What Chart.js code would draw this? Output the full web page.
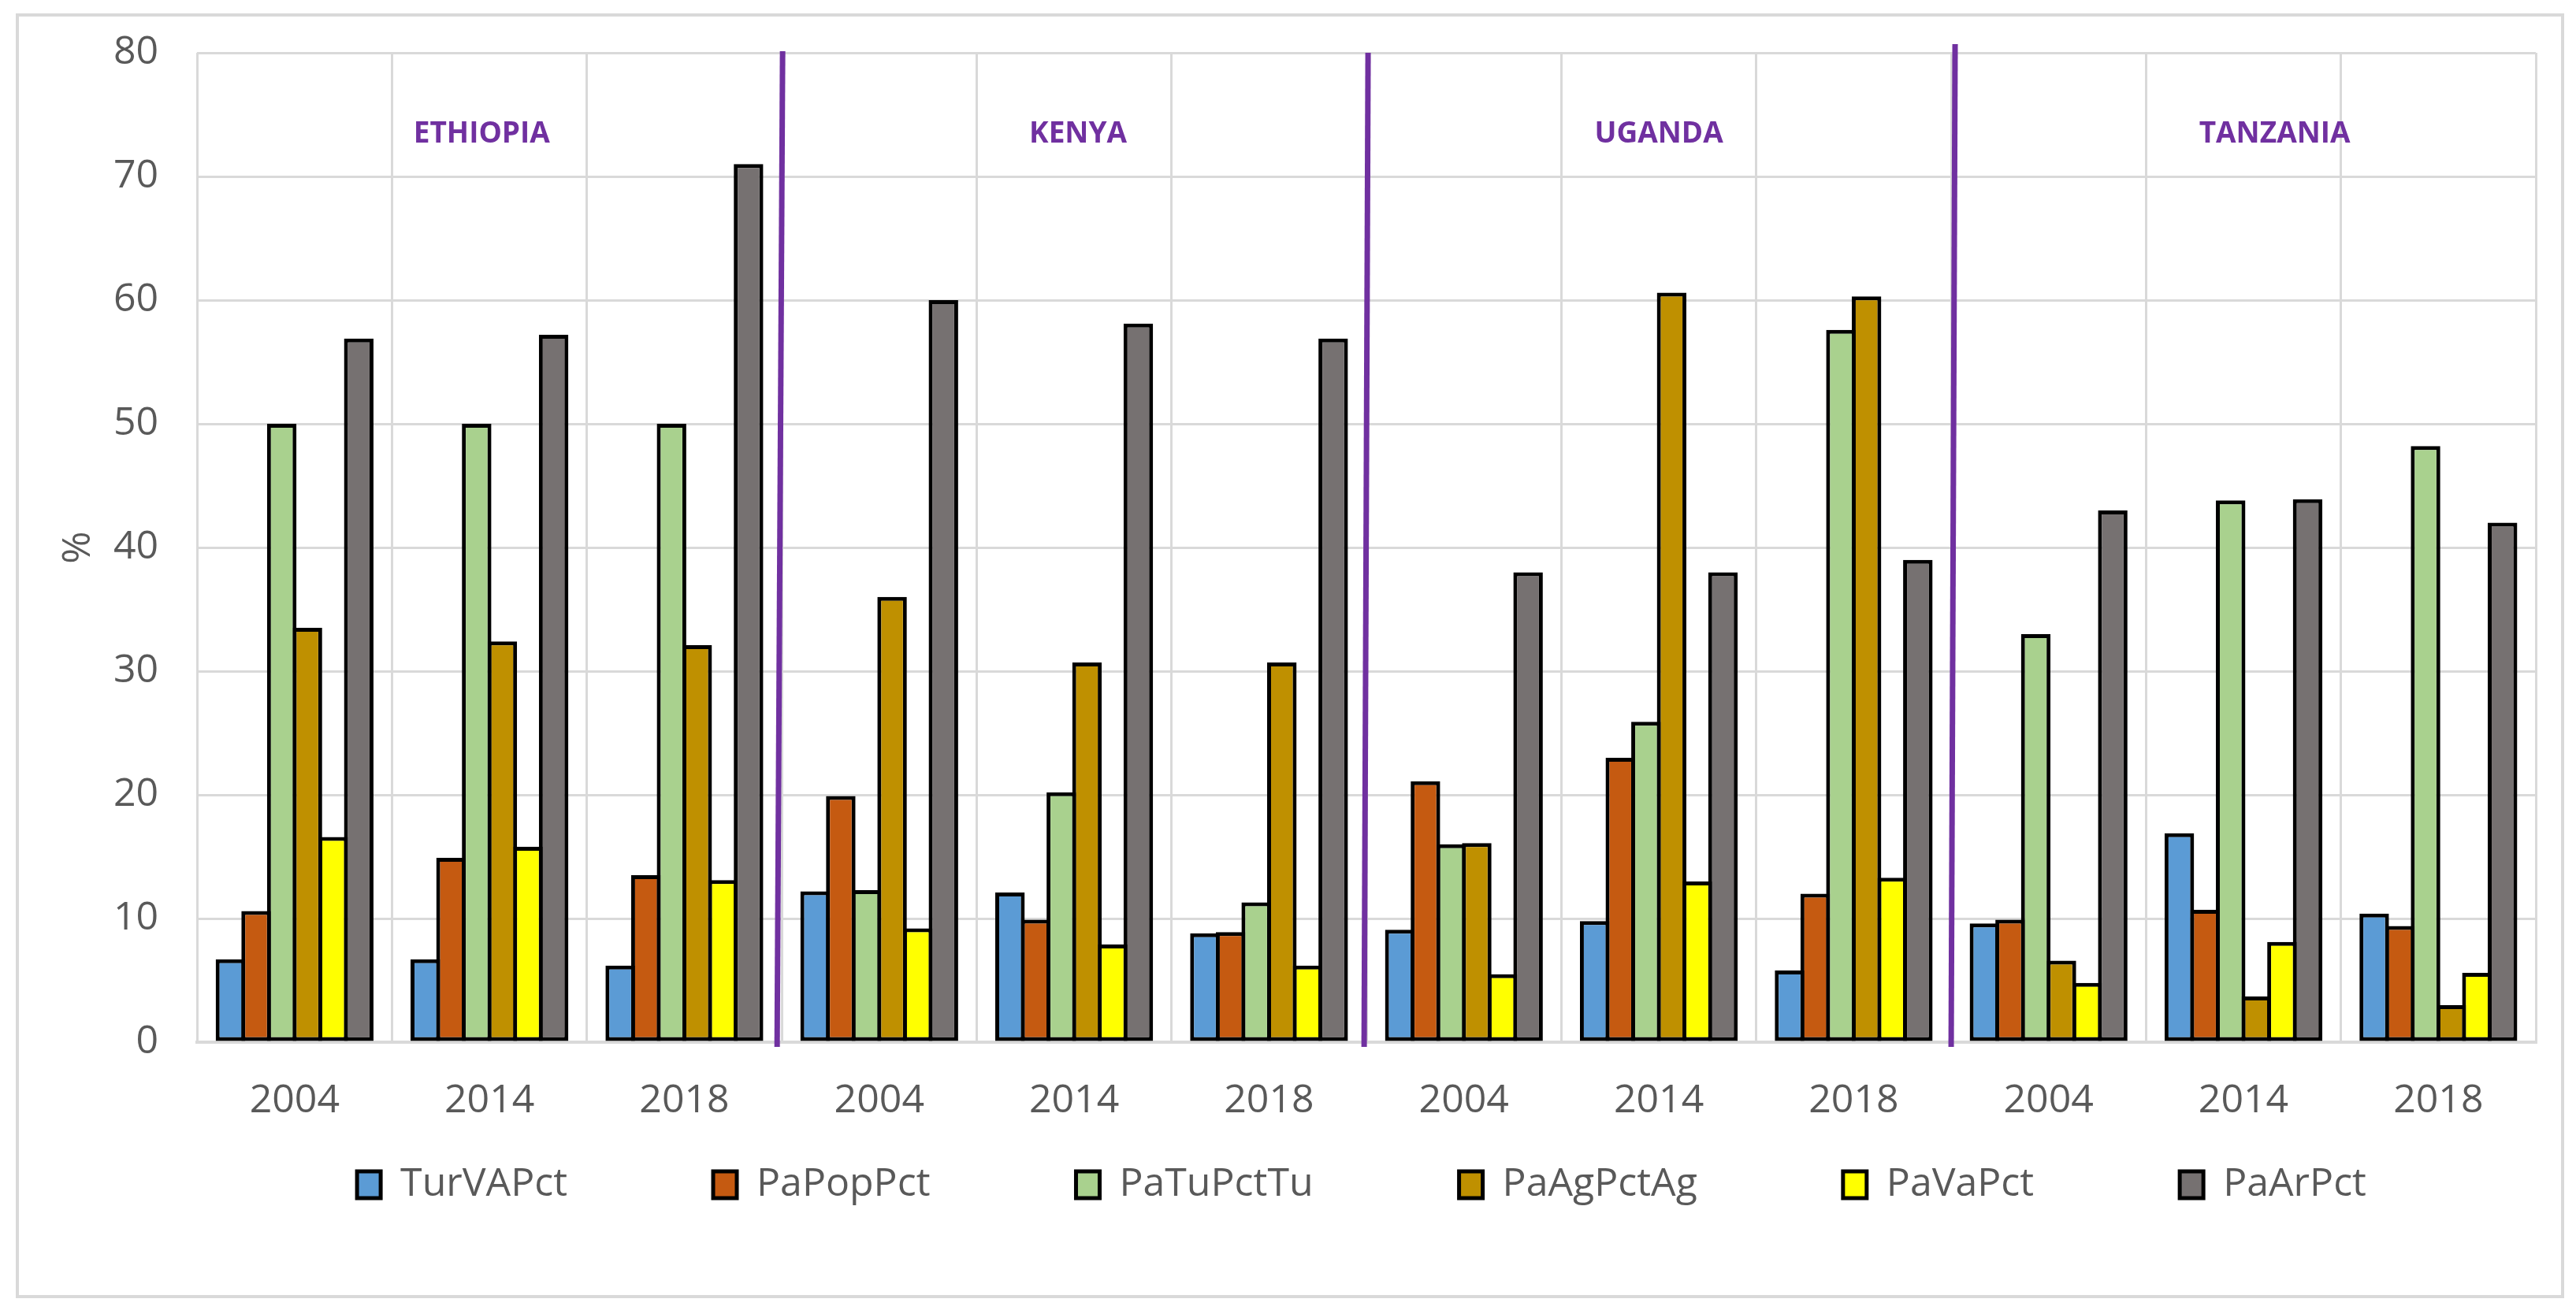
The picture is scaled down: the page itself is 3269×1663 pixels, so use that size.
<!DOCTYPE html>
<html>
<head>
<meta charset="utf-8">
<script src="https://cdn.jsdelivr.net/npm/chart.js@4.4.1/dist/chart.umd.min.js"></script>
<style>
  html, body { margin: 0; padding: 0; background: #fff; }
  #wrap { position: relative; width: 3269px; height: 1663px; }
  #frame { position: absolute; left: 20px; top: 17px; width: 3234px; height: 1631px;
           box-sizing: border-box; border: 4px solid #d9d9d9; pointer-events: none; }
</style>
</head>
<body>
<div id="wrap">
  <canvas id="chart" width="3269" height="1663"></canvas>
  <div id="frame"></div>
</div>
<script>
// Data
const countries = ['ETHIOPIA', 'KENYA', 'UGANDA', 'TANZANIA'];
const years = ['2004', '2014', '2018'];
const seriesNames = ['TurVAPct', 'PaPopPct', 'PaTuPctTu', 'PaAgPctAg', 'PaVaPct', 'PaArPct'];

// each array: Ethiopia 04/14/18, Kenya 04/14/18, Uganda 04/14/18, Tanzania 04/14/18
const turVAPct  = [6.7, 6.7, 6.2, 12.2, 12.1, 8.8, 9.1, 9.8, 5.8, 9.6, 16.9, 10.4];
const paPopPct  = [10.6, 14.9, 13.5, 19.9, 9.9, 8.9, 21.1, 23.0, 12.0, 9.9, 10.7, 9.4];
const paTuPctTu = [50.0, 50.0, 50.0, 12.3, 20.2, 11.3, 16.0, 25.9, 57.6, 33.0, 43.8, 48.2];
const paAgPctAg = [33.5, 32.4, 32.1, 36.0, 30.7, 30.7, 16.1, 60.6, 60.3, 6.6, 3.7, 3.0];
const paVaPct   = [16.6, 15.8, 13.1, 9.2, 7.9, 6.2, 5.5, 13.0, 13.3, 4.8, 8.1, 5.6];
const paArPct   = [56.9, 57.2, 71.0, 60.0, 58.1, 56.9, 38.0, 38.0, 39.0, 43.0, 43.9, 42.0];

const yMin = 0, yMax = 80, yStep = 10;

const labels = countries.flatMap(() => years);
const seriesValues = [turVAPct, paPopPct, paTuPctTu, paAgPctAg, paVaPct, paArPct];
const colors = ['#5b9bd5', '#c55a11', '#a9d18e', '#bf9000', '#ffff00', '#767171'];

const textGrey = '#595959';
const gridGrey = '#d9d9d9';
const purple = '#7030a0';

// Country dividers and names
const countryMarks = {
    id: 'countryMarks',
    afterDatasetsDraw(chart) {
        const { ctx, chartArea, scales: { x, y } } = chart;
        const step = x.getPixelForValue(1) - x.getPixelForValue(0);
        ctx.save();

        // separators are hand drawn in the original, so a little slanted
        ctx.strokeStyle = purple;
        ctx.lineWidth = 7;
        const tilt = [[1, -6, 2], [2, -3, 0], [5, 0, 11]];
        for (let c = 1; c < countries.length; c++) {
            const bx = x.getPixelForValue(c * years.length) - step / 2;
            const [dTop, dBottom, up] = tilt[c - 1];
            ctx.beginPath();
            ctx.moveTo(bx + dTop, chartArea.top - up);
            ctx.lineTo(bx + dBottom, chartArea.bottom + 6);
            ctx.stroke();
        }

        ctx.fillStyle = purple;
        ctx.font = 'bold 37px "Open Sans"';
        ctx.textAlign = 'center';
        ctx.textBaseline = 'middle';
        const shift = [-0.04, 0.02, 0, 0.16];
        countries.forEach((name, c) => {
            const cx = x.getPixelForValue(c * years.length + 1) + shift[c] * step;
            ctx.fillText(name, cx, y.getPixelForValue(73.4));
        });
        ctx.restore();
    },
};

// Wide spaced legend without the extra vertical room Chart.js gives it
const legendPlacement = {
    id: 'legendPlacement',
    beforeInit(chart) {
        const fit = chart.legend.fit;
        chart.legend.fit = function () {
            fit.call(this);
            this.height = 180;
        };
    },
    afterLayout(chart) {
        const lg = chart.legend;
        lg.top -= 179;
        lg.left += 94;
        lg.right += 94;
    },
};

const ctx = document.getElementById('chart').getContext('2d');

new Chart(ctx, {
    type: 'bar',
    data: {
        labels: labels,
        datasets: seriesNames.map((name, i) => ({
            label: name,
            data: seriesValues[i],
            backgroundColor: colors[i],
            borderColor: '#000000',
            borderWidth: 5,
            borderSkipped: false,
            categoryPercentage: 0.79,
            barPercentage: 1.15,
        })),
    },
    options: {
        responsive: false,
        animation: false,
        devicePixelRatio: 1,
        layout: { padding: { left: 50, right: 51, top: 67, bottom: 10 } },
        scales: {
            x: {
                ticks: {
                    color: textGrey,
                    font: { family: 'Open Sans', size: 50 },
                    padding: 45,
                    autoSkip: false,
                    maxRotation: 0,
                },
                grid: { color: gridGrey, lineWidth: 3, drawTicks: false, offset: true },
                border: { display: true, color: gridGrey, width: 4 },
            },
            y: {
                min: yMin,
                max: yMax,
                ticks: {
                    stepSize: yStep,
                    color: textGrey,
                    // small lineHeight so the top label does not push the plot down
                    font: { family: 'Open Sans', size: 50, lineHeight: 0.5 },
                    padding: 49,
                },
                grid: { color: gridGrey, lineWidth: 3, drawTicks: false },
                border: { display: false },
                title: {
                    display: true,
                    text: '%',
                    color: textGrey,
                    font: { family: 'Open Sans', size: 50 },
                    padding: { top: 20, bottom: -35 },
                },
            },
        },
        plugins: {
            legend: {
                position: 'bottom',
                labels: {
                    color: textGrey,
                    font: { family: 'Open Sans', size: 50 },
                    boxWidth: 30,
                    boxHeight: 34,
                    padding: 185,
                },
            },
            tooltip: { enabled: false },
        },
    },
    plugins: [countryMarks, legendPlacement],
});
</script>
</body>
</html>
